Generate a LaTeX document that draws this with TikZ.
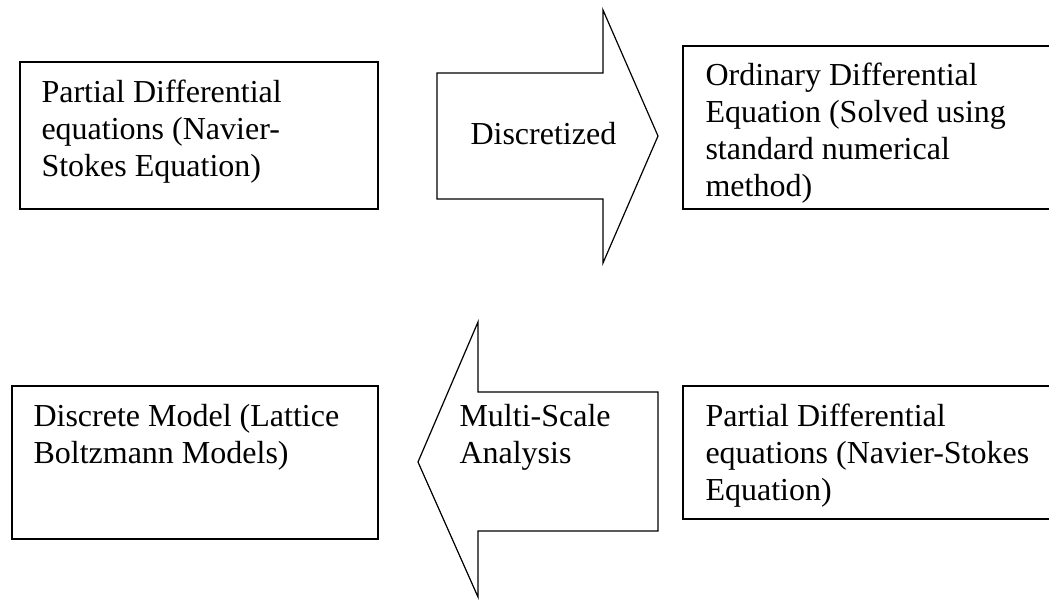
\documentclass[tikz,border=0pt]{standalone}
\usepackage{fontspec}
\setmainfont{Liberation Serif}
\usetikzlibrary{fit}

\begin{document}
\begin{tikzpicture}[
    x=0.375pt, y=-0.375pt,
    box/.style={draw, line width=0.5pt, inner sep=0pt},
    txt/.style={anchor=base west, align=left, inner sep=0pt, font=\fontsize{12}{13.8}\selectfont},
    bigarrow/.style={draw, line width=0.45pt, line join=miter}
]
\useasboundingbox (0,0) rectangle (1049,599);

% Top row: PDE -> ODE (text placed by its last baseline)
\node[box, fit={(20,62) (378,209)}] (pdetop) {};
\node[txt] (pdetoptext) at (41,176)
    {Partial Differential\\equations (Navier-\\Stokes Equation)};

\draw[bigarrow] (437,73) -- (603,73) -- (603,10) -- (658,136)
    -- (603,263) -- (603,199) -- (437,199) -- cycle;
\node[txt] (discr) at (470,144) {Discretized};

\node[box, fit={(683,46) (1070,209)}] (ode) {};
\node[txt] (odetext) at (705,196)
    {Ordinary Differential\\Equation (Solved using\\standard numerical\\method)};

% Bottom row: PDE -> LBM
\node[box, fit={(12,386) (378,539)}] (lbm) {};
\node[txt] (lbmtext) at (33,463)
    {Discrete Model (Lattice\\Boltzmann Models)};

\draw[bigarrow] (658,392) -- (478,392) -- (478,322) -- (418,462)
    -- (478,597) -- (478,531) -- (658,531) -- cycle;
\node[txt] (msa) at (459,463) {Multi-Scale\\Analysis};

\node[box, fit={(683,386) (1070,519)}] (pdebot) {};
\node[txt] (pdebottext) at (705,500)
    {Partial Differential\\equations (Navier-Stokes\\Equation)};

\end{tikzpicture}
\end{document}
